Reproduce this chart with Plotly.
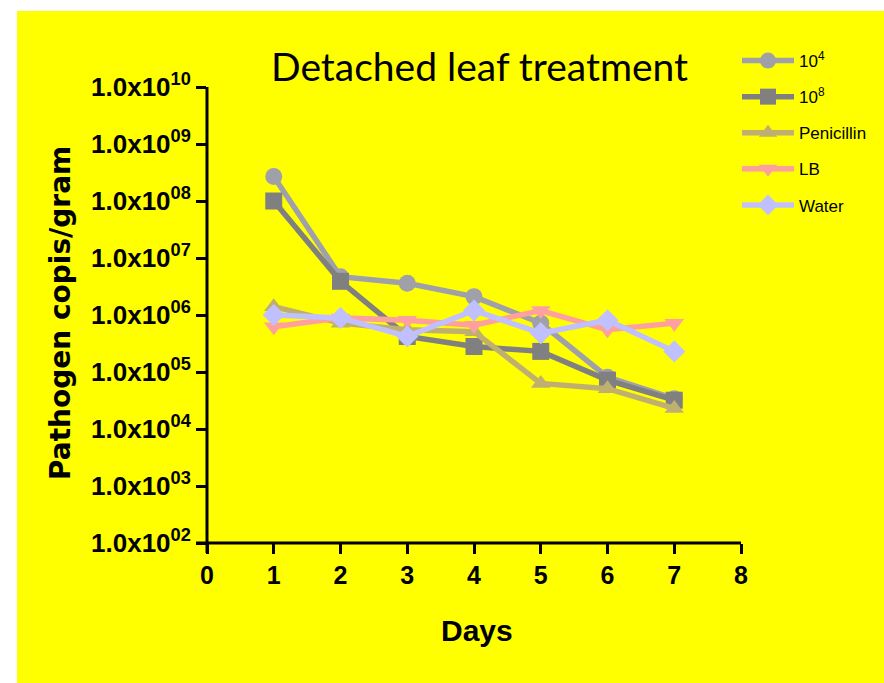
import plotly.graph_objects as go

days = [1, 2, 3, 4, 5, 6, 7]
series_names = ["10<sup>4</sup>", "10<sup>8</sup>", "Penicillin", "LB", "Water"]
inoc_1e4 = [2.7e8, 4.7e6, 3.6e6, 2.1e6, 7.2e5, 8.1e4, 3.4e4]
inoc_1e8 = [1.0e8, 3.9e6, 4.2e5, 2.8e5, 2.3e5, 7.2e4, 3.2e4]
penicillin = [1.4e6, 7.2e5, 5.5e5, 5.1e5, 6.3e4, 5.1e4, 2.3e4]
lb = [6.2e5, 8.9e5, 8.1e5, 6.6e5, 1.2e6, 5.5e5, 7.2e5]
water = [1.0e6, 8.9e5, 4.2e5, 1.2e6, 4.8e5, 8.1e5, 2.3e5]

x_ticks = [0, 1, 2, 3, 4, 5, 6, 7, 8]
y_exponents = [10, 9, 8, 7, 6, 5, 4, 3, 2]
y_ticktext = ["1.0x10<sup>%02d</sup>" % e for e in y_exponents]
y_tickvals = [10.0 ** e for e in y_exponents]

colors = ["#A0A0A8", "#808080", "#C0B070", "#FFA0A0", "#C0C0FF"]
symbols = ["circle", "square", "triangle-up", "triangle-down", "diamond"]
all_series = [inoc_1e4, inoc_1e8, penicillin, lb, water]

fig = go.Figure()
for i, (name, vals) in enumerate(zip(series_names, all_series)):
    fig.add_trace(go.Scatter(
        x=days, y=vals, name=name, mode="lines+markers",
        legendgroup="g%d" % i,
        line=dict(color=colors[i], width=5.5),
        marker=dict(symbol=symbols[i], size=17, color=colors[i]),
    ))

L, R, T, B = 207, 143, 87, 140
W, H = 884, 683
pw, ph = W - L - R, H - T - B

def px(x):
    return (x - L) / pw

def py(y):
    return (H - B - y) / ph

narrow = "Liberation Sans Narrow, Arial Narrow, Liberation Sans, Arial, sans-serif"

fig.update_layout(
    width=W, height=H, autosize=False,
    margin=dict(l=L, r=R, t=T, b=B, pad=0),
    paper_bgcolor="#FFFF00", plot_bgcolor="#FFFF00",
    showlegend=True,
    legend=dict(
        x=px(737), y=py(43), xanchor="left", yanchor="top",
        bgcolor="rgba(0,0,0,0)", tracegroupgap=11,
        font=dict(family=narrow, size=17, color="#000000"),
        itemwidth=52,
    ),
    xaxis=dict(
        range=[0, 8], tickvals=x_ticks, ticktext=[str(v) for v in x_ticks],
        showgrid=False, zeroline=False, showline=False,
        ticks="outside", ticklen=10, tickwidth=3, tickcolor="#000000",
        tickfont=dict(family=narrow, size=25, color="#000000", weight="bold"),
    ),
    yaxis=dict(
        type="log", range=[2, 10], tickvals=y_tickvals, ticktext=y_ticktext,
        showgrid=False, zeroline=False, showline=False,
        ticks="outside", ticklen=10, tickwidth=3, tickcolor="#000000",
        tickfont=dict(family=narrow, size=26, color="#000000", weight="bold"),
    ),
    shapes=[
        dict(type="line", xref="paper", yref="paper", x0=px(196), x1=1, y0=0, y1=0,
             line=dict(color="#000000", width=3)),
        dict(type="line", xref="paper", yref="paper", x0=0, x1=0, y0=py(553), y1=1.0,
             line=dict(color="#000000", width=3)),
        dict(type="rect", xref="paper", yref="paper", x0=px(0), x1=px(17), y0=py(H), y1=py(0),
             fillcolor="#FFFFFF", line=dict(width=0), layer="above"),
        dict(type="rect", xref="paper", yref="paper", x0=px(0), x1=px(W), y0=py(11), y1=py(0),
             fillcolor="#FFFFFF", line=dict(width=0), layer="above"),
    ],
    annotations=[
        dict(text="Detached leaf treatment", xref="paper", yref="paper",
             x=px(479), y=py(66), xanchor="center", yanchor="middle", showarrow=False,
             font=dict(family="Lato, Carlito, Calibri, sans-serif", size=39, color="#000000")),
        dict(text="Pathogen copis/gram", xref="paper", yref="paper",
             x=px(60), y=py(313), xanchor="center", yanchor="middle", showarrow=False,
             textangle=-90,
             font=dict(family="DejaVu Sans, sans-serif", size=28, color="#000000", weight="bold")),
        dict(text="Days", xref="paper", yref="paper",
             x=px(477), y=py(630), xanchor="center", yanchor="middle", showarrow=False,
             font=dict(family="Liberation Sans, Arial, sans-serif", size=30, color="#000000", weight="bold")),
    ],
)

fig.write_html("out.html", config={"displayModeBar": False},
               post_script="document.body.style.margin='0';document.body.style.padding='0';")
